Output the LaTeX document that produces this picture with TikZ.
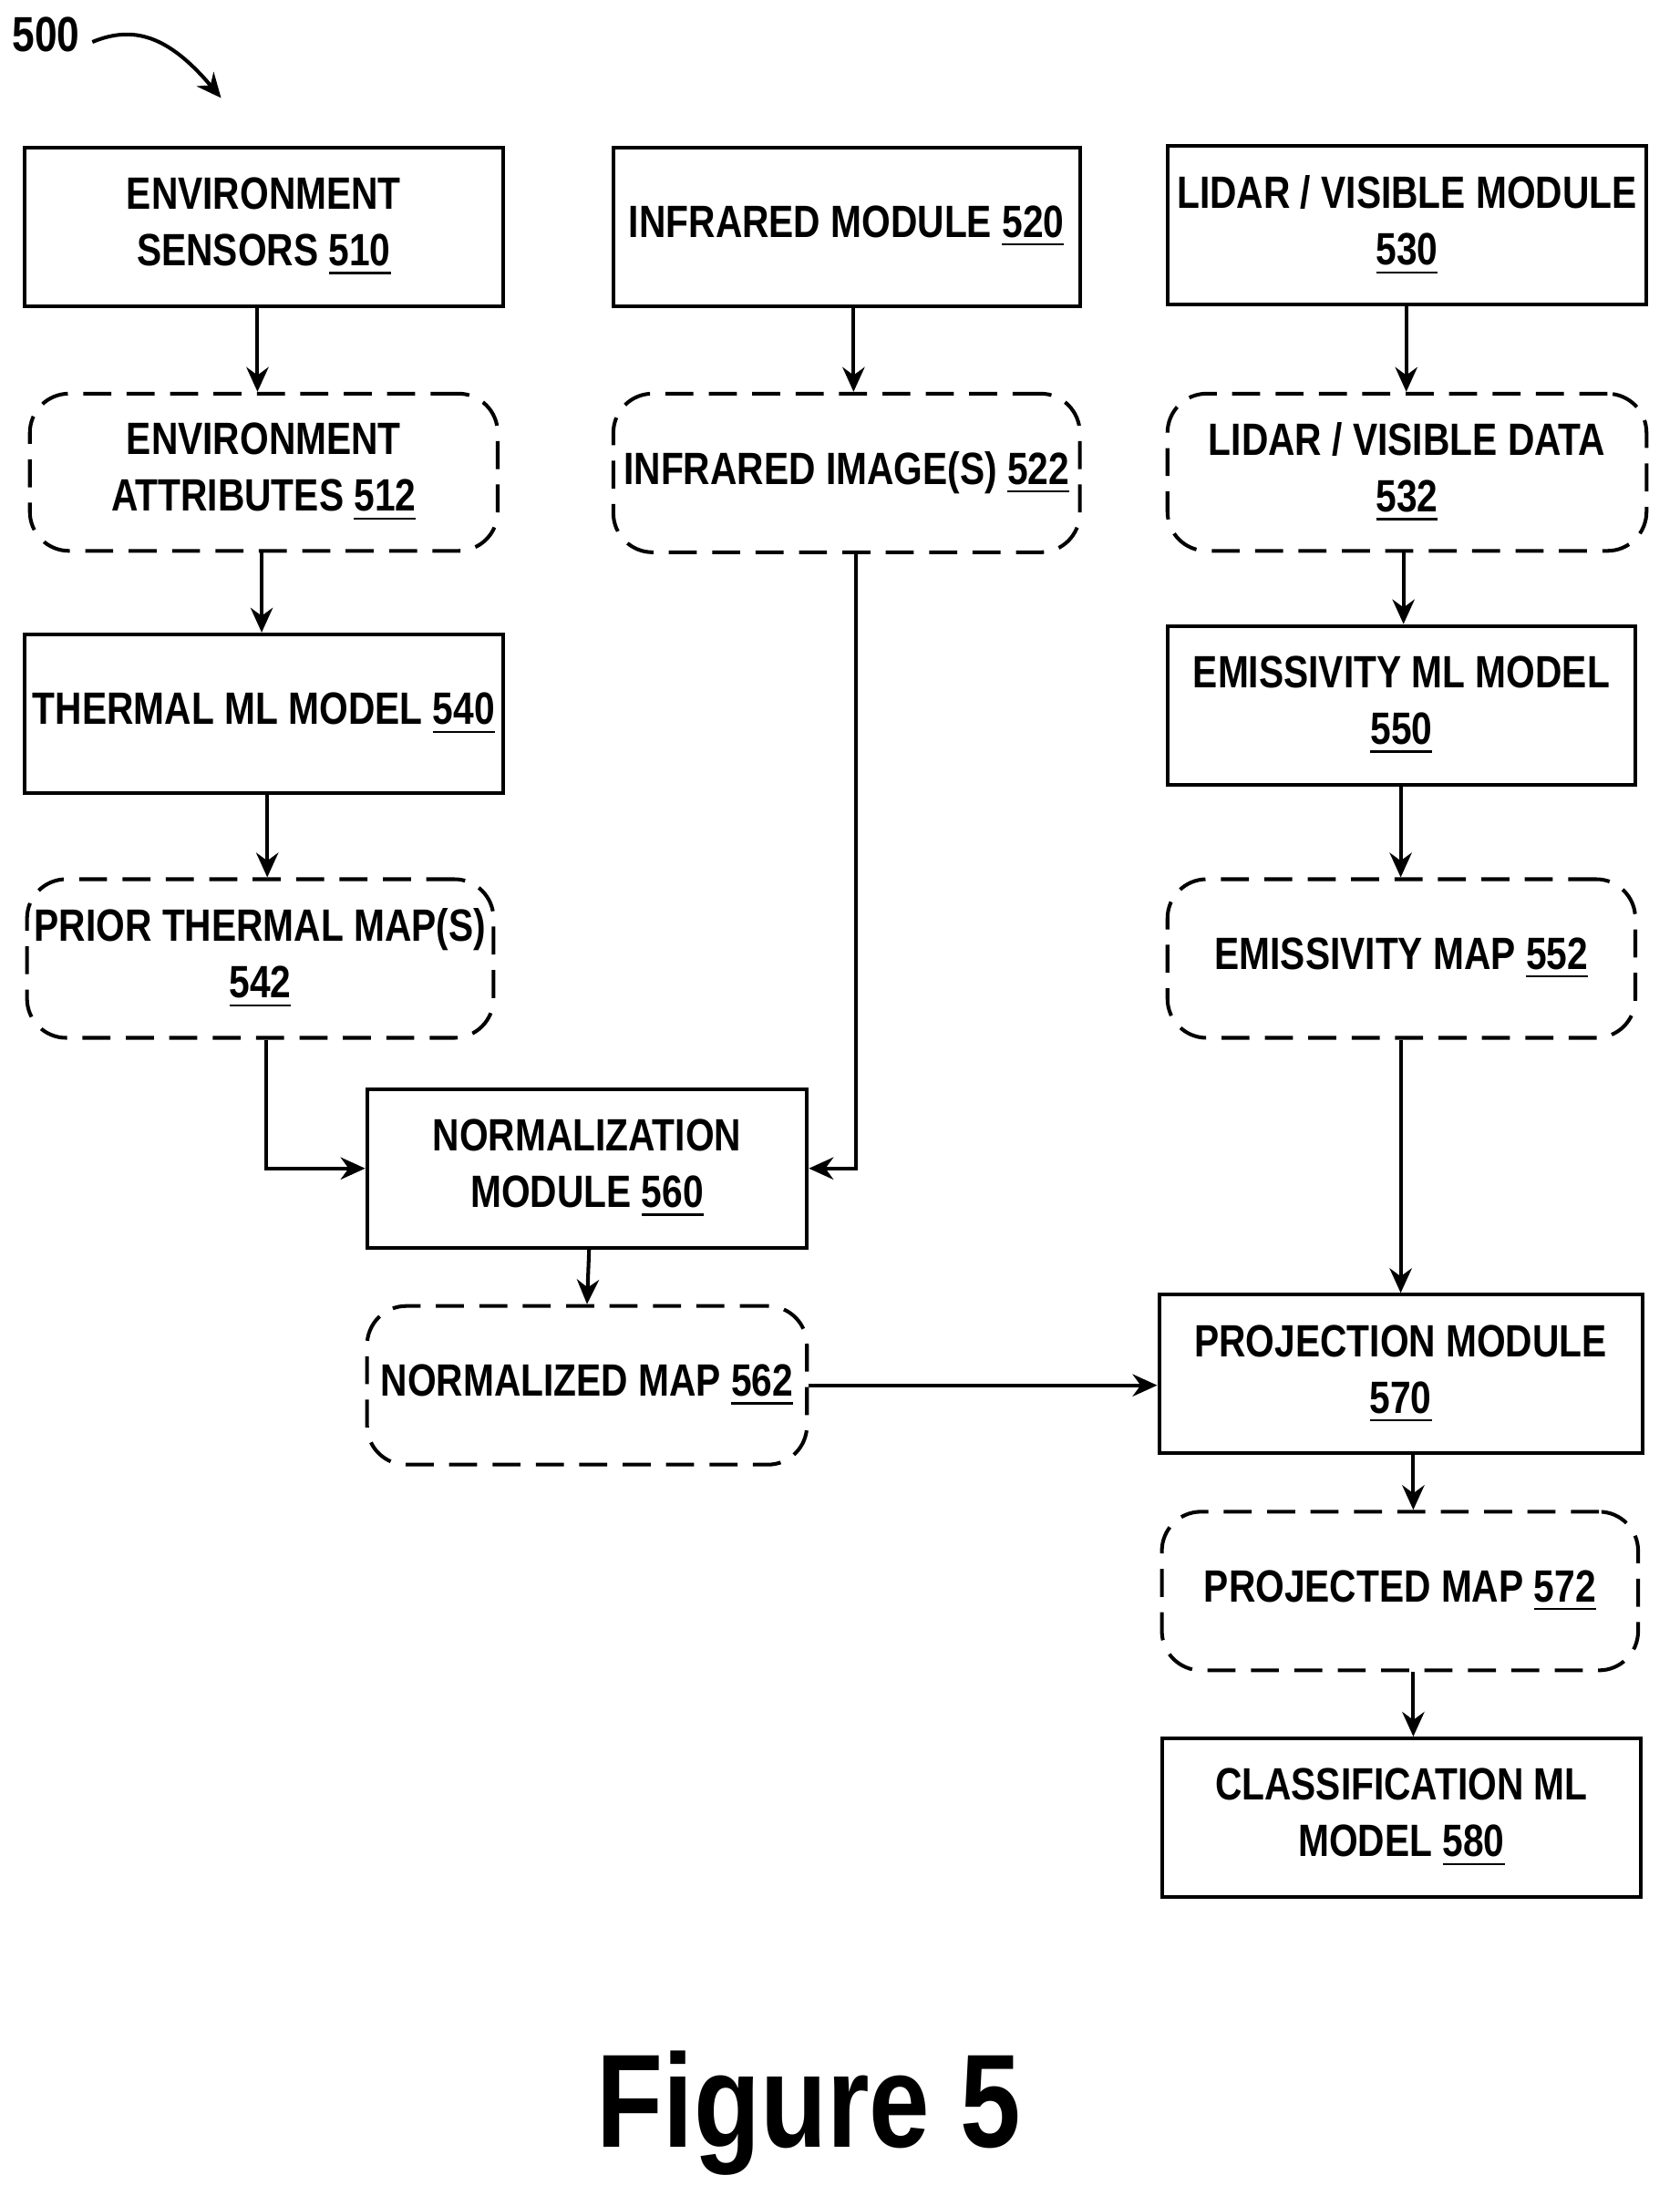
\documentclass[tikz,border=0pt]{standalone}
\usepackage{fontspec}
\setmainfont{Liberation Sans}[FakeStretch=0.82]
\usetikzlibrary{arrows.meta}
\newcommand{\nm}[1]{\underline{#1}}
\begin{document}
\begin{tikzpicture}[x=0.01cm,y=-0.01cm,
 box/.style={draw,line width=0.75pt,align=center,font=\fontsize{9.2}{11.5}\selectfont\bfseries,inner sep=0pt},
 dbox/.style={box,rounded corners=0.28cm,dash pattern=on 0.2cm off 0.11cm},
 arr/.style={-{Stealth[length=5pt,width=4.5pt]},line width=0.75pt}]
\useasboundingbox (0,0) rectangle (1200,1576.5);
\newcommand{\bx}[7]{\node[#1,minimum width=#4*0.01cm - 0.75pt,minimum height=#5*0.01cm - 0.75pt] (#2) at (#3) {#6};}
\bx{box}{a}{188.5,162}{345}{116}{ENVIRONMENT\\SENSORS \nm{510}}{}
\bx{box}{b}{605,162}{336}{116}{INFRARED MODULE \nm{520}}{}
\bx{box}{c}{1005.5,161}{345}{116}{LIDAR / VISIBLE MODULE\\\nm{530}}{}
\bx{dbox}{d}{188.5,337.5}{337}{115}{ENVIRONMENT\\ATTRIBUTES \nm{512}}{}
\bx{dbox}{e}{605,338}{336}{116}{INFRARED IMAGE(S) \nm{522}}{}
\bx{dbox}{f}{1005.5,337.5}{345}{115}{LIDAR / VISIBLE DATA\\\nm{532}}{}
\bx{box}{g}{188.5,510}{345}{116}{THERMAL ML MODEL \nm{540}}{}
\bx{box}{h}{1001.5,504}{337}{116}{EMISSIVITY ML MODEL\\\nm{550}}{}
\bx{dbox}{i}{186,685}{336}{116}{PRIOR THERMAL MAP(S)\\\nm{542}}{}
\bx{dbox}{j}{1001.5,685}{337}{116}{EMISSIVITY MAP \nm{552}}{}
\bx{box}{k}{419.5,835}{317}{116}{NORMALIZATION\\MODULE \nm{560}}{}
\bx{dbox}{l}{419.5,990}{317}{116}{NORMALIZED MAP \nm{562}}{}
\bx{box}{m}{1001,982}{348}{116}{PROJECTION MODULE\\\nm{570}}{}
\bx{dbox}{n}{1000.5,1137}{343}{116}{PROJECTED MAP \nm{572}}{}
\bx{box}{o}{1001.5,1299}{345}{116}{CLASSIFICATION ML\\MODEL \nm{580}}{}
\draw[arr] (184,220) -- (184,280);
\draw[arr] (610,220) -- (610,280);
\draw[arr] (1005,219) -- (1005,280);
\draw[arr] (187,395) -- (187,452);
\draw[arr] (1003,395) -- (1003,446);
\draw[arr] (191,568) -- (191,627);
\draw[arr] (1001,562) -- (1001,627);
\draw[arr] (190,743) |- (k.west);
\draw[arr] (612,396) |- (k.east);
\draw[arr] (1001,743) -- (m.north);
\draw[arr] (421,893) -- (l.north);
\draw[arr] (l.east) -- (m.west |- l.east);
\draw[arr] (1010,1040) -- (1010,1079);
\draw[arr] (1010,1195) -- (1010,1241);
\node[font=\fontsize{10}{12}\selectfont\bfseries] (lab) at (33,25) {500};
\coordinate (t) at (158,70);
\draw[arr] (66,30) .. controls (95,18) and (120,25) .. (t);
\node[font=\fontsize{27}{32}\selectfont\bfseries] (fig) at (578,1510) {Figure 5};
\end{tikzpicture}
\end{document}
